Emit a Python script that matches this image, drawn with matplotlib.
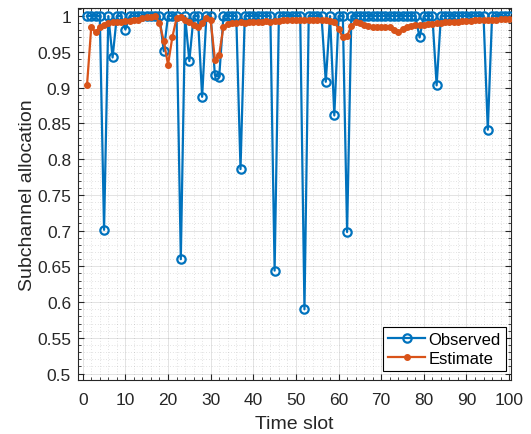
import matplotlib
matplotlib.use("Agg")
import matplotlib.pyplot as plt
from matplotlib.ticker import MultipleLocator, FuncFormatter
import numpy as np

plt.rcParams['font.family'] = ['Liberation Sans', 'DejaVu Sans']

time_slot = list(range(1, 101))

observed = [
    1, 1, 1, 1, 0.701, 1, 0.942, 1, 1, 0.981,
    1, 1, 1, 1, 1, 1, 1, 1, 0.951, 1,
    1, 1, 0.660, 1, 0.937, 1, 1, 0.887, 1, 1,
    0.917, 0.915, 1, 1, 1, 1, 0.786, 1, 1, 1,
    1, 1, 1, 1, 0.644, 1, 1, 1, 1, 1,
    1, 0.590, 1, 1, 1, 1, 0.908, 1, 0.861, 1,
    1, 0.698, 1, 1, 1, 1, 1, 1, 1, 1,
    1, 1, 1, 1, 1, 1, 1, 1, 0.970, 1,
    1, 1, 0.903, 1, 1, 1, 1, 1, 1, 1,
    1, 1, 1, 1, 0.841, 1, 1, 1, 1, 1,
]

estimate = [
    0.903, 0.985, 0.977, 0.985, 0.988, 0.990, 0.991, 0.991, 0.992, 0.993,
    0.993, 0.994, 0.995, 0.997, 0.998, 0.999, 1.000, 0.990, 0.965, 0.932,
    0.970, 0.997, 0.998, 0.995, 0.991, 0.987, 0.985, 0.990, 0.997, 0.994,
    0.939, 0.946, 0.985, 0.989, 0.990, 0.990, 0.991, 0.990, 0.991, 0.991,
    0.992, 0.992, 0.993, 0.992, 0.993, 0.993, 0.994, 0.994, 0.995, 0.995,
    0.994, 0.995, 0.995, 0.994, 0.995, 0.994, 0.994, 0.993, 0.992, 0.982,
    0.970, 0.972, 0.986, 0.991, 0.990, 0.988, 0.986, 0.985, 0.984, 0.984,
    0.985, 0.984, 0.980, 0.977, 0.982, 0.985, 0.986, 0.987, 0.987, 0.988,
    0.989, 0.989, 0.990, 0.990, 0.991, 0.991, 0.992, 0.992, 0.993, 0.993,
    0.993, 0.994, 0.994, 0.995, 0.994, 0.995, 0.995, 0.996, 0.996, 0.996,
]

x_ticks = list(range(0, 101, 10))
y_ticks = [0.5, 0.55, 0.6, 0.65, 0.7, 0.75, 0.8, 0.85, 0.9, 0.95, 1.0]

blue = '#0072BD'
orange = '#D95319'
axis_color = '#262626'

fig = plt.figure(figsize=(5.31, 4.35), dpi=100)
ax = fig.add_axes([0.147, 0.124, 0.815, 0.855])

ax.plot(time_slot, observed, '-o', color=blue, lw=1.6, ms=6,
        mfc='none', mew=1.6, label='Observed', zorder=3)
ax.plot(time_slot, estimate, '-o', color=orange, lw=1.6, ms=4,
        mfc=orange, mec=orange, label='Estimate', zorder=4)

ax.set_xlim(-1.1, 100.4)
ax.set_ylim(0.491, 1.011)
ax.set_xticks(x_ticks)
ax.set_yticks(y_ticks)
ax.yaxis.set_major_formatter(FuncFormatter(lambda v, p: f"{v:g}"))
ax.xaxis.set_minor_locator(MultipleLocator(2))
ax.yaxis.set_minor_locator(MultipleLocator(0.01))

ax.grid(True, which='major', color=axis_color, alpha=0.15, lw=0.6)
ax.grid(True, which='minor', color=axis_color, alpha=0.25, lw=0.5,
        linestyle=(0, (1, 3)))
ax.set_axisbelow(True)

ax.tick_params(axis='both', which='both', direction='in', top=True,
               right=True, colors=axis_color, labelsize=12.5)
ax.tick_params(which='major', length=4, width=0.8)
ax.tick_params(which='minor', length=2, width=0.6)
ax.tick_params(axis='x', which='major', pad=8.5)
ax.tick_params(axis='y', which='major', pad=5)
for s in ax.spines.values():
    s.set_color(axis_color)
    s.set_linewidth(0.8)

ax.set_xlabel('Time slot', fontsize=14, color=axis_color, labelpad=6)
ax.set_ylabel('Subchannel allocation', fontsize=14, color=axis_color,
              labelpad=1)

leg = ax.legend(loc='lower right', bbox_to_anchor=(0.988, 0.024),
                fontsize=12, fancybox=False, framealpha=1,
                edgecolor='black', borderpad=0.3, handlelength=2.2,
                handletextpad=0.2, labelspacing=0.25, borderaxespad=0)
leg.get_frame().set_linewidth(0.8)

fig.savefig('out.png', dpi=100)
